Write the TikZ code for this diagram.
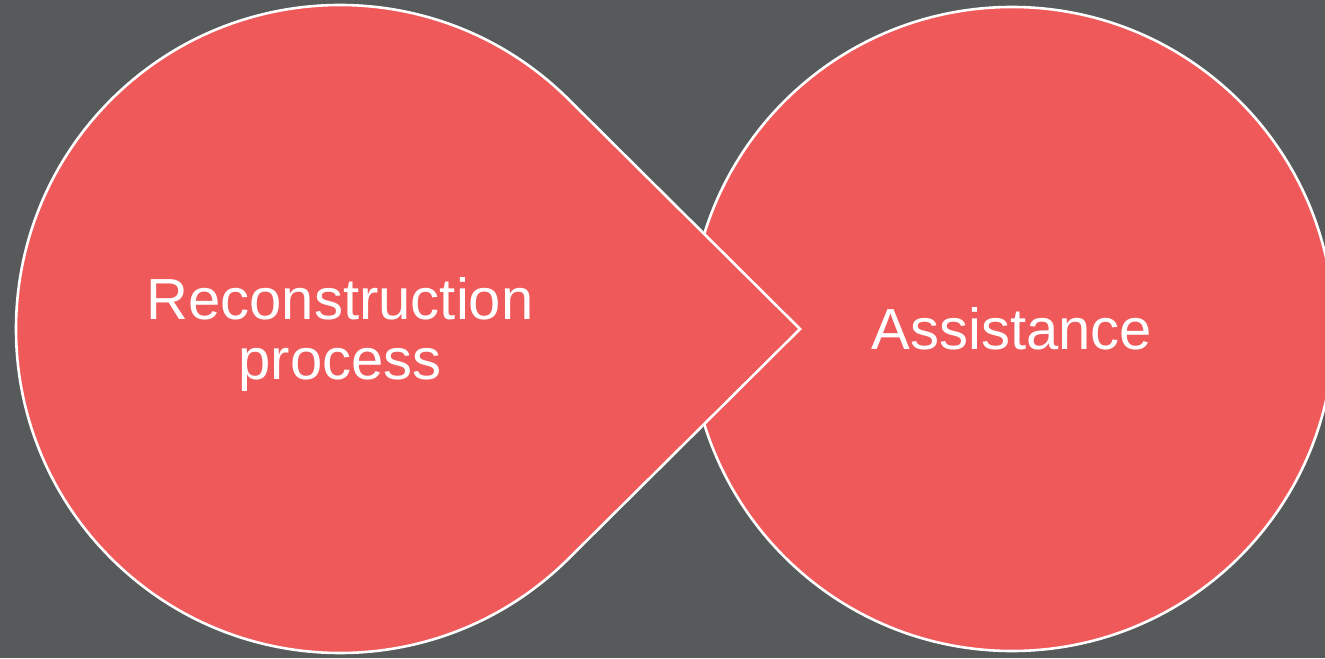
\documentclass[tikz,border=0pt]{standalone}
\usepackage{fontspec}
\setmainfont{Liberation Sans}
\usetikzlibrary{calc}

\definecolor{slate}{RGB}{87,90,90}
\definecolor{coral}{RGB}{239,89,90}

\begin{document}
\begin{tikzpicture}[x=0.5pt,y=0.5pt,
  blob/.style={fill=coral,draw=white,line width=1.3pt,line join=miter},
  label/.style={text=white,align=center,font=\fontsize{29}{30}\selectfont}]

  % --- Background ---
  \fill[slate] (0,0) rectangle (1325,658);
  \useasboundingbox (0,0) rectangle (1325,658);

  % --- Define base points ---
  \coordinate (L) at (340,329);
  \coordinate (R) at (1012,329);
  \coordinate (P) at (800,329);

  % --- Right circle ---
  \draw[blob] (R) circle[radius=322];

  % --- Left drop pointing at the right circle ---
  \draw[blob] (P) -- ($(L)+(45:324)$)
    arc[start angle=45, end angle=315, radius=324] -- cycle;

  % --- Labels ---
  \node[label] (recon) at ($(L)+(0,-6)$) {Reconstruction\\process};
  \node[label] (assist) at (R) {Assistance};

\end{tikzpicture}
\end{document}
